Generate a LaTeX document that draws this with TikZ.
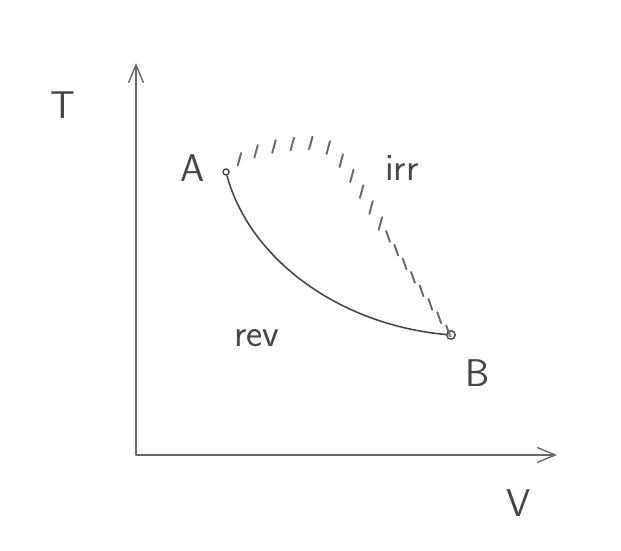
\documentclass[tikz,border=0pt]{standalone}
\usepackage{tikz}
\usetikzlibrary{arrows.meta,positioning,decorations.markings}
\definecolor{pencil}{RGB}{70,70,70}
\definecolor{pencillight}{RGB}{105,105,105}

\begin{document}
\begin{tikzpicture}[x=0.2mm,y=0.2mm,
    font=\sffamily\fontsize{22}{26}\selectfont,
    lbl/.style={text=pencil,inner sep=0pt},
    axis/.style={pencillight,line width=0.8pt,line cap=round,line join=round},
    endpt/.style={circle,draw=pencil,line width=0.8pt,inner sep=0pt,minimum size=#1},
    revpath/.style={pencil,line width=0.9pt},
    hatch/.style={pencillight,line width=1.1pt,line cap=round},
    irrpath/.style={postaction={decorate,decoration={markings,
        mark=between positions 3mm and 40mm step 3.7mm with
          {\pgftransformresetnontranslations\draw[hatch] (-1.7,-6.3) -- (1.7,6.3);},
        mark=between positions 43mm and 66mm step 3.2mm with
          {\pgftransformresetnontranslations\draw[hatch] (1.9,-5.4) -- (-1.9,5.4);}}}}]
  \useasboundingbox (0,0) rectangle (621,551);
  % axes
  \coordinate (orig) at (136,96);
  \coordinate (ttip) at (136,488);
  \coordinate (vtip) at (557,96);
  \draw[axis,{Straight Barb[length=3.6mm,width=3mm]}-{Straight Barb[length=3.6mm,width=3mm]}]
    (ttip) -- (orig) -- (vtip);
  \node[lbl] (tlbl) at (63,446) {T};
  \node[lbl] (vlbl) at (519,48) {V};
  % the two states
  \node[endpt=1.2mm] (ptA) at (226,379) {};
  \node[endpt=1.7mm] (ptB) at (451,216) {};
  \node[lbl] (albl) at (193,383) {A};
  \node[lbl] (blbl) at (478,178) {B};
  \node[lbl] (irr) at (402,383) {irr};
  \node[lbl] (rev) at (257,213) {rev};
  % reversible path, then the hatched irreversible one
  \draw[revpath] (ptA) .. controls (250,291) and (340,226) .. (ptB);
  \path[irrpath] (ptA) .. controls (245,403) and (285,408) .. (315,408)
    .. controls (345,408) and (365,341) .. (ptB);
\end{tikzpicture}
\end{document}
